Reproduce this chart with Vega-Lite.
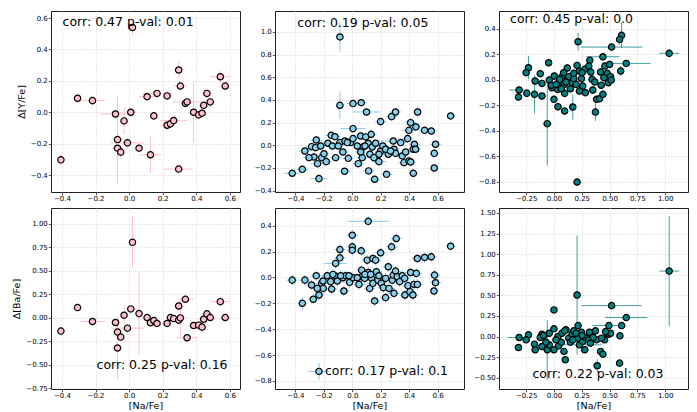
{
"$schema": "https://vega.github.io/schema/vega-lite/v6.json",
"padding": {"left": 11, "top": 10, "right": 5, "bottom": 0},
"background": "white",
"config": {
  "font": "DejaVu Sans",
  "view": {"stroke": "#222", "strokeWidth": 1},
  "axis": {"domain": false, "labelFontSize": 7, "titleFontSize": 9.5, "titleFontWeight": "normal", "labelColor": "#000", "titleColor": "#000", "tickColor": "#222", "tickSize": 2.7, "tickWidth": 0.8, "labelPadding": 1, "gridColor": "#d4d4d4", "gridDash": [1, 1.2], "gridWidth": 0.8, "titlePadding": 4, "labelFlush": false, "labelOverlap": false},
  "axisX": {"labelPadding": 0, "titlePadding": 1.5, "titleColor": "#000"}
},
"datasets": {
"d1": [
{"x":-0.406,"y":-0.303,"xe":0.02,"ye":0.04},
{"x":-0.307,"y":0.089,"xe":0.02,"ye":0.03},
{"x":-0.218,"y":0.074,"xe":0.076,"ye":0.03},
{"x":-0.081,"y":-0.011,"xe":0.09,"ye":0.03},
{"x":-0.069,"y":-0.174,"xe":0.03,"ye":0.28},
{"x":-0.069,"y":-0.229,"xe":0.03,"ye":0.04},
{"x":-0.05,"y":-0.254,"xe":0.02,"ye":0.04},
{"x":-0.03,"y":-0.055,"xe":0.02,"ye":0.085},
{"x":-0.01,"y":-0.195,"xe":0.1,"ye":0.03},
{"x":0.01,"y":0.0,"xe":0.03,"ye":0.03},
{"x":0.02,"y":0.54,"xe":0.02,"ye":0.05},
{"x":0.059,"y":-0.229,"xe":0.02,"ye":0.03},
{"x":0.107,"y":0.099,"xe":0.05,"ye":0.03},
{"x":0.127,"y":-0.271,"xe":0.065,"ye":0.115},
{"x":0.147,"y":-0.023,"xe":0.02,"ye":0.03},
{"x":0.166,"y":0.12,"xe":0.09,"ye":0.03},
{"x":0.226,"y":0.104,"xe":0.03,"ye":0.03},
{"x":0.226,"y":-0.083,"xe":0.04,"ye":0.03},
{"x":0.246,"y":-0.074,"xe":0.03,"ye":0.03},
{"x":0.265,"y":-0.053,"xe":0.08,"ye":0.03},
{"x":0.295,"y":0.269,"xe":0.03,"ye":0.055},
{"x":0.305,"y":0.167,"xe":0.04,"ye":0.03},
{"x":0.295,"y":-0.362,"xe":0.085,"ye":0.03},
{"x":0.335,"y":0.057,"xe":0.03,"ye":0.03},
{"x":0.345,"y":0.066,"xe":0.085,"ye":0.03},
{"x":0.384,"y":0.0,"xe":0.03,"ye":0.19},
{"x":0.414,"y":-0.017,"xe":0.03,"ye":0.03},
{"x":0.434,"y":-0.006,"xe":0.03,"ye":0.03},
{"x":0.444,"y":0.044,"xe":0.03,"ye":0.03},
{"x":0.463,"y":0.12,"xe":0.03,"ye":0.03},
{"x":0.483,"y":0.066,"xe":0.03,"ye":0.03},
{"x":0.543,"y":0.226,"xe":0.06,"ye":0.04},
{"x":0.572,"y":0.167,"xe":0.03,"ye":0.03}
],
"d4": [
{"x":-0.406,"y":-0.144,"xe":0.02,"ye":0.05},
{"x":-0.307,"y":0.106,"xe":0.02,"ye":0.04},
{"x":-0.218,"y":-0.042,"xe":0.076,"ye":0.04},
{"x":-0.081,"y":-0.053,"xe":0.03,"ye":0.04},
{"x":-0.069,"y":-0.155,"xe":0.03,"ye":0.04},
{"x":-0.069,"y":-0.324,"xe":0.03,"ye":0.335},
{"x":-0.05,"y":-0.208,"xe":0.02,"ye":0.04},
{"x":-0.03,"y":0.025,"xe":0.02,"ye":0.1},
{"x":-0.01,"y":-0.113,"xe":0.1,"ye":0.04},
{"x":0.01,"y":0.092,"xe":0.03,"ye":0.04},
{"x":0.02,"y":0.80,"xe":0.02,"ye":0.27},
{"x":0.059,"y":0.042,"xe":0.02,"ye":0.43},
{"x":0.107,"y":0.0,"xe":0.03,"ye":0.04},
{"x":0.127,"y":-0.056,"xe":0.03,"ye":0.04},
{"x":0.147,"y":-0.032,"xe":0.03,"ye":0.04},
{"x":0.166,"y":-0.063,"xe":0.03,"ye":0.04},
{"x":0.226,"y":-0.063,"xe":0.03,"ye":0.04},
{"x":0.246,"y":0.0,"xe":0.03,"ye":0.04},
{"x":0.265,"y":-0.011,"xe":0.03,"ye":0.04},
{"x":0.295,"y":-0.028,"xe":0.03,"ye":0.04},
{"x":0.295,"y":0.123,"xe":0.03,"ye":0.05},
{"x":0.305,"y":-0.004,"xe":0.03,"ye":0.2},
{"x":0.335,"y":0.194,"xe":0.05,"ye":0.04},
{"x":0.345,"y":-0.215,"xe":0.065,"ye":0.04},
{"x":0.384,"y":-0.085,"xe":0.03,"ye":0.04},
{"x":0.414,"y":-0.081,"xe":0.03,"ye":0.04},
{"x":0.434,"y":-0.102,"xe":0.03,"ye":0.04},
{"x":0.444,"y":-0.018,"xe":0.03,"ye":0.04},
{"x":0.463,"y":0.039,"xe":0.03,"ye":0.04},
{"x":0.483,"y":0.0,"xe":0.03,"ye":0.04},
{"x":0.543,"y":0.169,"xe":0.06,"ye":0.05},
{"x":0.572,"y":0.0,"xe":0.03,"ye":0.04}
],
"d2": [
{"x":-0.087,"y":0.956,"xe":0.03,"ye":0.13},
{"x":-0.087,"y":0.353,"xe":0.03,"ye":0.12},
{"x":0.005,"y":0.368,"xe":0.04,"ye":0.03},
{"x":0.063,"y":0.376,"xe":0.04,"ye":0.03},
{"x":0.10,"y":0.294,"xe":0.095,"ye":0.03},
{"x":0.199,"y":0.209,"xe":0.04,"ye":0.03},
{"x":0.276,"y":0.253,"xe":0.04,"ye":0.03},
{"x":0.304,"y":0.294,"xe":0.04,"ye":0.03},
{"x":0.459,"y":0.294,"xe":0.03,"ye":0.05},
{"x":0.691,"y":0.259,"xe":0.03,"ye":0.03},
{"x":0.005,"y":0.147,"xe":0.09,"ye":0.03},
{"x":0.508,"y":0.132,"xe":0.04,"ye":0.03},
{"x":0.555,"y":0.126,"xe":0.04,"ye":0.03},
{"x":0.447,"y":0.162,"xe":0.04,"ye":0.03},
{"x":0.41,"y":0.2,"xe":0.04,"ye":0.04},
{"x":0.398,"y":0.132,"xe":0.05,"ye":0.03},
{"x":0.389,"y":0.059,"xe":0.04,"ye":0.04},
{"x":0.585,"y":0.009,"xe":0.04,"ye":0.03},
{"x":0.576,"y":-0.071,"xe":0.03,"ye":0.04},
{"x":0.576,"y":-0.2,"xe":0.03,"ye":0.03},
{"x":0.429,"y":-0.247,"xe":0.03,"ye":0.03},
{"x":0.241,"y":-0.256,"xe":0.04,"ye":0.03},
{"x":0.157,"y":-0.3,"xe":0.04,"ye":0.03},
{"x":0.115,"y":-0.226,"xe":0.04,"ye":0.03},
{"x":0.187,"y":-0.144,"xe":0.05,"ye":0.03},
{"x":0.042,"y":-0.162,"xe":0.04,"ye":0.03},
{"x":-0.054,"y":-0.229,"xe":0.04,"ye":0.03},
{"x":-0.234,"y":-0.294,"xe":0.06,"ye":0.03},
{"x":-0.351,"y":-0.212,"xe":0.04,"ye":0.03},
{"x":-0.422,"y":-0.247,"xe":0.06,"ye":0.03},
{"x":-0.333,"y":-0.05,"xe":0.04,"ye":0.03},
{"x":-0.286,"y":-0.012,"xe":0.04,"ye":0.03},
{"x":-0.253,"y":0.047,"xe":0.04,"ye":0.03},
{"x":-0.269,"y":-0.103,"xe":0.04,"ye":0.03},
{"x":-0.244,"y":-0.162,"xe":0.05,"ye":0.03},
{"x":-0.215,"y":-0.109,"xe":0.04,"ye":0.03},
{"x":-0.199,"y":-0.074,"xe":0.04,"ye":0.03},
{"x":-0.183,"y":-0.144,"xe":0.04,"ye":0.03},
{"x":-0.171,"y":0.018,"xe":0.04,"ye":0.03},
{"x":-0.148,"y":0.088,"xe":0.04,"ye":0.03},
{"x":-0.122,"y":0.076,"xe":0.04,"ye":0.03},
{"x":-0.117,"y":-0.109,"xe":0.04,"ye":0.03},
{"x":-0.087,"y":0.024,"xe":0.04,"ye":0.03},
{"x":-0.066,"y":-0.059,"xe":0.04,"ye":0.03},
{"x":-0.052,"y":0.038,"xe":0.04,"ye":0.03},
{"x":-0.028,"y":-0.115,"xe":0.04,"ye":0.03},
{"x":-0.012,"y":0.024,"xe":0.04,"ye":0.03},
{"x":0.005,"y":0.059,"xe":0.04,"ye":0.03},
{"x":0.059,"y":0.082,"xe":0.04,"ye":0.03},
{"x":0.094,"y":0.074,"xe":0.04,"ye":0.03},
{"x":0.133,"y":0.097,"xe":0.04,"ye":0.03},
{"x":0.075,"y":-0.015,"xe":0.04,"ye":0.03},
{"x":0.112,"y":0.018,"xe":0.04,"ye":0.03},
{"x":0.14,"y":-0.015,"xe":0.04,"ye":0.03},
{"x":0.164,"y":0.018,"xe":0.04,"ye":0.03},
{"x":0.199,"y":-0.05,"xe":0.04,"ye":0.03},
{"x":0.215,"y":-0.006,"xe":0.04,"ye":0.03},
{"x":0.124,"y":-0.079,"xe":0.04,"ye":0.03},
{"x":0.07,"y":-0.109,"xe":0.04,"ye":0.03},
{"x":0.253,"y":-0.079,"xe":0.04,"ye":0.03},
{"x":0.288,"y":0.038,"xe":0.1,"ye":0.03},
{"x":0.293,"y":-0.035,"xe":0.04,"ye":0.03},
{"x":0.304,"y":-0.071,"xe":0.04,"ye":0.03},
{"x":0.34,"y":0.024,"xe":0.04,"ye":0.03},
{"x":0.351,"y":-0.094,"xe":0.04,"ye":0.03},
{"x":0.375,"y":-0.059,"xe":0.04,"ye":0.03},
{"x":0.363,"y":-0.153,"xe":0.04,"ye":0.03},
{"x":0.398,"y":-0.138,"xe":0.04,"ye":0.03},
{"x":0.41,"y":-0.147,"xe":0.04,"ye":0.03},
{"x":0.436,"y":0.009,"xe":0.04,"ye":0.03},
{"x":0.429,"y":-0.035,"xe":0.04,"ye":0.03},
{"x":0.445,"y":-0.035,"xe":0.04,"ye":0.03},
{"x":-0.258,"y":-0.021,"xe":0.04,"ye":0.03},
{"x":-0.222,"y":-0.006,"xe":0.04,"ye":0.03},
{"x":-0.304,"y":-0.109,"xe":0.04,"ye":0.03},
{"x":0.035,"y":-0.006,"xe":0.04,"ye":0.03},
{"x":0.089,"y":-0.006,"xe":0.04,"ye":0.03},
{"x":0.234,"y":-0.035,"xe":0.04,"ye":0.03},
{"x":0.269,"y":-0.05,"xe":0.04,"ye":0.03},
{"x":-0.14,"y":-0.006,"xe":0.04,"ye":0.03},
{"x":0.187,"y":-0.079,"xe":0.04,"ye":0.03},
{"x":-0.035,"y":0.024,"xe":0.04,"ye":0.03},
{"x":-0.098,"y":-0.006,"xe":0.04,"ye":0.03},
{"x":0.059,"y":-0.059,"xe":0.04,"ye":0.03},
{"x":0.152,"y":-0.109,"xe":0.04,"ye":0.03}
],
"d5": [
{"x":0.112,"y":0.433,"xe":0.146,"ye":0.04},
{"x":0.0,"y":0.326,"xe":0.04,"ye":0.04},
{"x":0.0,"y":0.236,"xe":0.04,"ye":0.04},
{"x":0.0,"y":0.21,"xe":0.04,"ye":0.04},
{"x":-0.087,"y":0.215,"xe":0.04,"ye":0.04},
{"x":-0.087,"y":0.151,"xe":0.04,"ye":0.04},
{"x":-0.117,"y":0.108,"xe":0.08,"ye":0.04},
{"x":0.063,"y":0.205,"xe":0.04,"ye":0.04},
{"x":0.105,"y":0.133,"xe":0.04,"ye":0.04},
{"x":0.145,"y":0.146,"xe":0.04,"ye":0.04},
{"x":0.164,"y":0.133,"xe":0.04,"ye":0.04},
{"x":0.199,"y":0.19,"xe":0.04,"ye":0.04},
{"x":0.253,"y":0.082,"xe":0.04,"ye":0.04},
{"x":0.276,"y":0.236,"xe":0.04,"ye":0.04},
{"x":0.309,"y":0.3,"xe":0.04,"ye":0.04},
{"x":0.457,"y":0.146,"xe":0.04,"ye":0.04},
{"x":0.508,"y":0.154,"xe":0.04,"ye":0.04},
{"x":0.555,"y":0.159,"xe":0.04,"ye":0.04},
{"x":0.691,"y":0.241,"xe":0.03,"ye":0.04},
{"x":0.578,"y":0.018,"xe":0.04,"ye":0.04},
{"x":0.585,"y":-0.041,"xe":0.04,"ye":0.04},
{"x":0.574,"y":-0.105,"xe":0.03,"ye":0.04},
{"x":-0.422,"y":-0.021,"xe":0.04,"ye":0.04},
{"x":-0.333,"y":-0.021,"xe":0.04,"ye":0.04},
{"x":-0.351,"y":-0.2,"xe":0.03,"ye":0.05},
{"x":-0.274,"y":-0.169,"xe":0.04,"ye":0.04},
{"x":-0.253,"y":0.013,"xe":0.04,"ye":0.04},
{"x":-0.286,"y":-0.059,"xe":0.04,"ye":0.04},
{"x":-0.234,"y":-0.136,"xe":0.04,"ye":0.04},
{"x":-0.215,"y":-0.046,"xe":0.04,"ye":0.04},
{"x":-0.204,"y":-0.085,"xe":0.04,"ye":0.04},
{"x":-0.176,"y":0.013,"xe":0.04,"ye":0.04},
{"x":-0.152,"y":-0.033,"xe":0.04,"ye":0.04},
{"x":-0.145,"y":-0.09,"xe":0.04,"ye":0.04},
{"x":-0.122,"y":0.013,"xe":0.04,"ye":0.04},
{"x":-0.105,"y":-0.028,"xe":0.04,"ye":0.04},
{"x":-0.059,"y":-0.105,"xe":0.04,"ye":0.04},
{"x":-0.066,"y":-0.003,"xe":0.04,"ye":0.04},
{"x":-0.047,"y":0.013,"xe":0.04,"ye":0.04},
{"x":-0.019,"y":-0.038,"xe":0.04,"ye":0.04},
{"x":0.005,"y":-0.003,"xe":0.04,"ye":0.04},
{"x":0.047,"y":-0.054,"xe":0.04,"ye":0.04},
{"x":0.066,"y":0.056,"xe":0.04,"ye":0.04},
{"x":0.066,"y":0.005,"xe":0.04,"ye":0.04},
{"x":0.087,"y":-0.008,"xe":0.04,"ye":0.04},
{"x":0.112,"y":0.038,"xe":0.04,"ye":0.04},
{"x":0.122,"y":-0.085,"xe":0.04,"ye":0.04},
{"x":0.136,"y":-0.008,"xe":0.04,"ye":0.04},
{"x":0.145,"y":-0.046,"xe":0.04,"ye":0.04},
{"x":0.157,"y":-0.182,"xe":0.04,"ye":0.04},
{"x":0.169,"y":0.044,"xe":0.04,"ye":0.04},
{"x":0.18,"y":-0.021,"xe":0.04,"ye":0.04},
{"x":0.204,"y":-0.046,"xe":0.04,"ye":0.04},
{"x":0.218,"y":-0.079,"xe":0.04,"ye":0.04},
{"x":0.234,"y":-0.156,"xe":0.04,"ye":0.04},
{"x":0.258,"y":-0.085,"xe":0.04,"ye":0.04},
{"x":0.281,"y":-0.021,"xe":0.04,"ye":0.04},
{"x":0.288,"y":0.018,"xe":0.04,"ye":0.04},
{"x":0.293,"y":-0.123,"xe":0.04,"ye":0.04},
{"x":0.304,"y":0.049,"xe":0.04,"ye":0.04},
{"x":0.316,"y":0.005,"xe":0.04,"ye":0.04},
{"x":0.333,"y":-0.033,"xe":0.04,"ye":0.04},
{"x":0.351,"y":0.013,"xe":0.04,"ye":0.04},
{"x":0.37,"y":-0.136,"xe":0.04,"ye":0.04},
{"x":0.391,"y":-0.064,"xe":0.04,"ye":0.04},
{"x":0.41,"y":0.038,"xe":0.04,"ye":0.04},
{"x":0.405,"y":-0.11,"xe":0.04,"ye":0.04},
{"x":0.426,"y":-0.136,"xe":0.04,"ye":0.04},
{"x":0.433,"y":-0.054,"xe":0.04,"ye":0.04},
{"x":0.45,"y":0.031,"xe":0.04,"ye":0.04},
{"x":0.457,"y":-0.054,"xe":0.04,"ye":0.04},
{"x":0.368,"y":-0.008,"xe":0.04,"ye":0.04},
{"x":-0.234,"y":-0.726,"xe":0.073,"ye":0.065},
{"x":-0.206,"y":-0.028,"xe":0.04,"ye":0.04},
{"x":-0.246,"y":-0.085,"xe":0.04,"ye":0.04},
{"x":-0.136,"y":0.023,"xe":0.04,"ye":0.04},
{"x":-0.082,"y":0.013,"xe":0.04,"ye":0.04},
{"x":-0.023,"y":0.013,"xe":0.04,"ye":0.04},
{"x":0.035,"y":-0.003,"xe":0.04,"ye":0.04},
{"x":0.089,"y":0.023,"xe":0.04,"ye":0.04},
{"x":0.129,"y":0.023,"xe":0.04,"ye":0.04},
{"x":0.187,"y":0.013,"xe":0.04,"ye":0.04},
{"x":0.234,"y":-0.008,"xe":0.04,"ye":0.04}
],
"d3": [
{"x":1.036,"y":0.207,"xe":0.09,"ye":0.03},
{"x":0.608,"y":0.348,"xe":0.03,"ye":0.1},
{"x":0.59,"y":0.316,"xe":0.03,"ye":0.04},
{"x":0.518,"y":0.256,"xe":0.28,"ye":0.03},
{"x":0.217,"y":0.298,"xe":0.03,"ye":0.07},
{"x":0.44,"y":0.18,"xe":0.15,"ye":0.03},
{"x":0.65,"y":0.128,"xe":0.22,"ye":0.03},
{"x":0.6,"y":0.068,"xe":0.03,"ye":0.04},
{"x":0.322,"y":0.152,"xe":0.03,"ye":0.03},
{"x":-0.048,"y":0.133,"xe":0.03,"ye":0.03},
{"x":-0.229,"y":0.094,"xe":0.03,"ye":0.09},
{"x":-0.25,"y":0.055,"xe":0.03,"ye":0.03},
{"x":-0.123,"y":0.047,"xe":0.03,"ye":0.03},
{"x":-0.169,"y":-0.01,"xe":0.03,"ye":0.03},
{"x":-0.108,"y":-0.029,"xe":0.03,"ye":0.03},
{"x":-0.313,"y":-0.081,"xe":0.09,"ye":0.03},
{"x":-0.319,"y":-0.136,"xe":0.03,"ye":0.03},
{"x":-0.244,"y":-0.107,"xe":0.03,"ye":0.03},
{"x":-0.175,"y":-0.115,"xe":0.03,"ye":0.15},
{"x":-0.108,"y":-0.128,"xe":0.03,"ye":0.03},
{"x":-0.06,"y":-0.345,"xe":0.04,"ye":0.33},
{"x":-0.042,"y":-0.003,"xe":0.03,"ye":0.03},
{"x":-0.018,"y":-0.063,"xe":0.03,"ye":0.03},
{"x":0.003,"y":0.029,"xe":0.03,"ye":0.03},
{"x":0.033,"y":-0.076,"xe":0.03,"ye":0.03},
{"x":0.0,"y":-0.154,"xe":0.03,"ye":0.03},
{"x":0.036,"y":-0.212,"xe":0.03,"ye":0.03},
{"x":0.096,"y":-0.246,"xe":0.03,"ye":0.03},
{"x":0.169,"y":-0.214,"xe":0.03,"ye":0.1},
{"x":0.096,"y":-0.107,"xe":0.03,"ye":0.03},
{"x":0.042,"y":-0.024,"xe":0.03,"ye":0.03},
{"x":0.072,"y":0.024,"xe":0.03,"ye":0.03},
{"x":0.09,"y":-0.039,"xe":0.03,"ye":0.03},
{"x":0.12,"y":0.092,"xe":0.03,"ye":0.03},
{"x":0.133,"y":0.024,"xe":0.03,"ye":0.03},
{"x":0.163,"y":-0.024,"xe":0.03,"ye":0.03},
{"x":0.148,"y":-0.071,"xe":0.03,"ye":0.03},
{"x":0.208,"y":0.112,"xe":0.03,"ye":0.03},
{"x":0.229,"y":0.068,"xe":0.03,"ye":0.03},
{"x":0.247,"y":0.008,"xe":0.03,"ye":0.03},
{"x":0.259,"y":-0.05,"xe":0.03,"ye":0.03},
{"x":0.277,"y":0.081,"xe":0.03,"ye":0.03},
{"x":0.283,"y":-0.102,"xe":0.03,"ye":0.03},
{"x":0.313,"y":0.107,"xe":0.03,"ye":0.03},
{"x":0.331,"y":0.06,"xe":0.03,"ye":0.03},
{"x":0.343,"y":0.003,"xe":0.03,"ye":0.03},
{"x":0.367,"y":-0.018,"xe":0.03,"ye":0.03},
{"x":0.349,"y":-0.081,"xe":0.03,"ye":0.03},
{"x":0.383,"y":-0.154,"xe":0.03,"ye":0.03},
{"x":0.373,"y":-0.254,"xe":0.03,"ye":0.07},
{"x":0.41,"y":-0.149,"xe":0.03,"ye":0.03},
{"x":0.44,"y":-0.115,"xe":0.03,"ye":0.03},
{"x":0.458,"y":0.107,"xe":0.03,"ye":0.03},
{"x":0.479,"y":0.05,"xe":0.03,"ye":0.03},
{"x":0.488,"y":-0.024,"xe":0.03,"ye":0.03},
{"x":0.5,"y":0.12,"xe":0.03,"ye":0.03},
{"x":0.509,"y":0.024,"xe":0.03,"ye":0.03},
{"x":0.515,"y":-0.003,"xe":0.03,"ye":0.03},
{"x":0.449,"y":0.016,"xe":0.03,"ye":0.03},
{"x":0.419,"y":0.06,"xe":0.03,"ye":0.03},
{"x":0.425,"y":-0.044,"xe":0.03,"ye":0.03},
{"x":0.066,"y":-0.071,"xe":0.03,"ye":0.03},
{"x":0.108,"y":-0.018,"xe":0.03,"ye":0.03},
{"x":0.178,"y":0.008,"xe":0.03,"ye":0.03},
{"x":0.199,"y":-0.037,"xe":0.03,"ye":0.03},
{"x":0.229,"y":-0.089,"xe":0.03,"ye":0.03},
{"x":0.253,"y":0.055,"xe":0.03,"ye":0.03},
{"x":0.178,"y":0.05,"xe":0.03,"ye":0.03},
{"x":0.087,"y":0.055,"xe":0.03,"ye":0.03},
{"x":0.208,"y":-0.803,"xe":0.03,"ye":0.03},
{"x":-0.024,"y":-0.044,"xe":0.03,"ye":0.03},
{"x":0.021,"y":-0.037,"xe":0.03,"ye":0.03},
{"x":0.051,"y":0.003,"xe":0.03,"ye":0.03}
],
"d6": [
{"x":1.036,"y":0.794,"xe":0.09,"ye":0.665},
{"x":0.208,"y":0.504,"xe":0.03,"ye":0.72},
{"x":0.518,"y":0.375,"xe":0.27,"ye":0.03},
{"x":0.0,"y":0.323,"xe":0.03,"ye":0.03},
{"x":0.65,"y":0.23,"xe":0.19,"ye":0.03},
{"x":0.608,"y":0.133,"xe":0.03,"ye":0.04},
{"x":0.217,"y":0.133,"xe":0.03,"ye":0.03},
{"x":0.494,"y":0.133,"xe":0.15,"ye":0.03},
{"x":-0.313,"y":-0.012,"xe":0.1,"ye":0.03},
{"x":-0.319,"y":-0.133,"xe":0.03,"ye":0.03},
{"x":-0.229,"y":0.02,"xe":0.03,"ye":0.03},
{"x":-0.25,"y":-0.04,"xe":0.03,"ye":0.03},
{"x":-0.175,"y":-0.093,"xe":0.03,"ye":0.03},
{"x":-0.169,"y":-0.161,"xe":0.03,"ye":0.03},
{"x":-0.108,"y":0.028,"xe":0.03,"ye":0.03},
{"x":-0.123,"y":-0.012,"xe":0.03,"ye":0.03},
{"x":-0.108,"y":-0.121,"xe":0.03,"ye":0.03},
{"x":-0.06,"y":-0.161,"xe":0.04,"ye":0.36},
{"x":-0.042,"y":0.04,"xe":0.03,"ye":0.03},
{"x":-0.042,"y":-0.101,"xe":0.03,"ye":0.03},
{"x":0.0,"y":0.093,"xe":0.03,"ye":0.03},
{"x":0.0,"y":-0.161,"xe":0.03,"ye":0.03},
{"x":0.042,"y":-0.113,"xe":0.03,"ye":0.03},
{"x":0.09,"y":-0.181,"xe":0.03,"ye":0.03},
{"x":0.102,"y":-0.282,"xe":0.03,"ye":0.03},
{"x":0.036,"y":0.0,"xe":0.03,"ye":0.03},
{"x":0.072,"y":0.04,"xe":0.03,"ye":0.03},
{"x":0.108,"y":0.081,"xe":0.03,"ye":0.03},
{"x":0.133,"y":-0.02,"xe":0.03,"ye":0.03},
{"x":0.163,"y":0.028,"xe":0.03,"ye":0.03},
{"x":0.178,"y":0.069,"xe":0.03,"ye":0.03},
{"x":0.217,"y":-0.02,"xe":0.03,"ye":0.03},
{"x":0.229,"y":-0.101,"xe":0.2,"ye":0.03},
{"x":0.247,"y":0.052,"xe":0.03,"ye":0.03},
{"x":0.259,"y":-0.06,"xe":0.03,"ye":0.03},
{"x":0.277,"y":-0.161,"xe":0.03,"ye":0.03},
{"x":0.283,"y":-0.012,"xe":0.03,"ye":0.03},
{"x":0.313,"y":-0.04,"xe":0.03,"ye":0.03},
{"x":0.343,"y":0.02,"xe":0.03,"ye":0.03},
{"x":0.373,"y":0.069,"xe":0.03,"ye":0.03},
{"x":0.383,"y":-0.04,"xe":0.03,"ye":0.03},
{"x":0.389,"y":-0.355,"xe":0.03,"ye":0.08},
{"x":0.419,"y":-0.181,"xe":0.03,"ye":0.03},
{"x":0.44,"y":-0.214,"xe":0.03,"ye":0.03},
{"x":0.455,"y":-0.04,"xe":0.03,"ye":0.03},
{"x":0.479,"y":0.04,"xe":0.03,"ye":0.03},
{"x":0.494,"y":0.028,"xe":0.03,"ye":0.03},
{"x":0.509,"y":0.04,"xe":0.03,"ye":0.03},
{"x":0.593,"y":0.008,"xe":0.03,"ye":0.03},
{"x":0.59,"y":-0.323,"xe":0.03,"ye":0.03},
{"x":0.096,"y":0.069,"xe":0.03,"ye":0.03},
{"x":0.066,"y":-0.069,"xe":0.03,"ye":0.03},
{"x":0.148,"y":-0.069,"xe":0.03,"ye":0.03},
{"x":0.199,"y":0.04,"xe":0.03,"ye":0.03},
{"x":0.319,"y":0.052,"xe":0.03,"ye":0.03},
{"x":0.352,"y":-0.012,"xe":0.03,"ye":0.03},
{"x":0.428,"y":-0.02,"xe":0.03,"ye":0.03},
{"x":0.464,"y":0.06,"xe":0.03,"ye":0.03},
{"x":-0.093,"y":0.012,"xe":0.03,"ye":0.03},
{"x":-0.072,"y":-0.069,"xe":0.03,"ye":0.03},
{"x":0.018,"y":-0.04,"xe":0.03,"ye":0.03},
{"x":0.169,"y":-0.04,"xe":0.03,"ye":0.03},
{"x":0.253,"y":0.012,"xe":0.03,"ye":0.03},
{"x":0.328,"y":-0.081,"xe":0.03,"ye":0.03}
]
},
"columns": 3,
"spacing": {"row": 16, "column": 35},
"bounds": "flush",
"concat": [
{
 "width": 189, "height": 181,
 "data": {"name": "d1"},
 "encoding": {
  "x": {"field": "x", "type": "quantitative", "scale": {"domain": [-0.465, 0.66], "zero": false, "nice": false}, "axis": {"values": [-0.4,-0.2,0,0.2,0.4,0.6], "format": ".1f", "title": null}},
  "y": {"field": "y", "type": "quantitative", "scale": {"domain": [-0.508, 0.645], "zero": false, "nice": false}, "axis": {"values": [-0.4,-0.2,0,0.2,0.4,0.6], "format": ".1f", "title": "Δ[Y/Fe]"}}
 },
 "layer": [
  {"mark": {"type": "errorbar", "color": "#ffc0cb", "thickness": 1}, "encoding": {"xError": {"field": "xe"}}},
  {"mark": {"type": "errorbar", "color": "#ffc0cb", "thickness": 1}, "encoding": {"yError": {"field": "ye"}}},
  {"mark": {"type": "circle", "fill": "#ffc0cb", "stroke": "#000", "strokeWidth": 1.2, "size": 40, "opacity": 1}},
  {"data": {"values": [{"x": -0.396, "y": 0.574, "t": "corr: 0.47 p-val: 0.01"}]}, "mark": {"type": "text", "align": "left", "baseline": "middle", "fontSize": 12.5, "color": "#000"}, "encoding": {"text": {"field": "t"}}}
 ]
},
{
 "width": 189, "height": 181,
 "data": {"name": "d2"},
 "encoding": {
  "x": {"field": "x", "type": "quantitative", "scale": {"domain": [-0.543, 0.785], "zero": false, "nice": false}, "axis": {"values": [-0.4,-0.2,0,0.2,0.4,0.6], "format": ".1f", "title": null}},
  "y": {"field": "y", "type": "quantitative", "scale": {"domain": [-0.412, 1.185], "zero": false, "nice": false}, "axis": {"values": [-0.4,-0.2,0,0.2,0.4,0.6,0.8,1.0], "format": ".1f", "title": null}}
 },
 "layer": [
  {"mark": {"type": "errorbar", "color": "#87ceeb", "thickness": 1}, "encoding": {"xError": {"field": "xe"}}},
  {"mark": {"type": "errorbar", "color": "#87ceeb", "thickness": 1}, "encoding": {"yError": {"field": "ye"}}},
  {"mark": {"type": "circle", "fill": "#87ceeb", "stroke": "#000", "strokeWidth": 1.2, "size": 40, "opacity": 1}},
  {"data": {"values": [{"x": -0.386, "y": 1.082, "t": "corr: 0.19 p-val: 0.05"}]}, "mark": {"type": "text", "align": "left", "baseline": "middle", "fontSize": 12.5, "color": "#000"}, "encoding": {"text": {"field": "t"}}}
 ]
},
{
 "width": 189, "height": 181,
 "data": {"name": "d3"},
 "encoding": {
  "x": {"field": "x", "type": "quantitative", "scale": {"domain": [-0.494, 1.205], "zero": false, "nice": false}, "axis": {"values": [-0.25,0,0.25,0.5,0.75,1.0], "format": ".2f", "title": null}},
  "y": {"field": "y", "type": "quantitative", "scale": {"domain": [-0.881, 0.539], "zero": false, "nice": false}, "axis": {"values": [-0.8,-0.6,-0.4,-0.2,0,0.2,0.4], "format": ".1f", "title": null}}
 },
 "layer": [
  {"mark": {"type": "errorbar", "color": "#008080", "opacity": 0.75, "thickness": 1}, "encoding": {"xError": {"field": "xe"}}},
  {"mark": {"type": "errorbar", "color": "#008080", "opacity": 0.75, "thickness": 1}, "encoding": {"yError": {"field": "ye"}}},
  {"mark": {"type": "circle", "fill": "#008080", "stroke": "#000", "strokeWidth": 1.2, "size": 40, "opacity": 1}},
  {"data": {"values": [{"x": -0.395, "y": 0.478, "t": "corr: 0.45 p-val: 0.0"}]}, "mark": {"type": "text", "align": "left", "baseline": "middle", "fontSize": 12.5, "color": "#000"}, "encoding": {"text": {"field": "t"}}}
 ]
},
{
 "width": 189, "height": 181,
 "data": {"name": "d4"},
 "encoding": {
  "x": {"field": "x", "type": "quantitative", "scale": {"domain": [-0.465, 0.66], "zero": false, "nice": false}, "axis": {"values": [-0.4,-0.2,0,0.2,0.4,0.6], "format": ".1f", "title": "[Na/Fe]"}},
  "y": {"field": "y", "type": "quantitative", "scale": {"domain": [-0.76, 1.165], "zero": false, "nice": false}, "axis": {"values": [-0.75,-0.5,-0.25,0,0.25,0.5,0.75,1.0], "format": ".2f", "title": "Δ[Ba/Fe]"}}
 },
 "layer": [
  {"mark": {"type": "errorbar", "color": "#ffc0cb", "thickness": 1}, "encoding": {"xError": {"field": "xe"}}},
  {"mark": {"type": "errorbar", "color": "#ffc0cb", "thickness": 1}, "encoding": {"yError": {"field": "ye"}}},
  {"mark": {"type": "circle", "fill": "#ffc0cb", "stroke": "#000", "strokeWidth": 1.2, "size": 40, "opacity": 1}},
  {"data": {"values": [{"x": -0.194, "y": -0.504, "t": "corr: 0.25 p-val: 0.16"}]}, "mark": {"type": "text", "align": "left", "baseline": "middle", "fontSize": 12.5, "color": "#000"}, "encoding": {"text": {"field": "t"}}}
 ]
},
{
 "width": 189, "height": 181,
 "data": {"name": "d5"},
 "encoding": {
  "x": {"field": "x", "type": "quantitative", "scale": {"domain": [-0.543, 0.785], "zero": false, "nice": false}, "axis": {"values": [-0.4,-0.2,0,0.2,0.4,0.6], "format": ".1f", "title": "[Na/Fe]"}},
  "y": {"field": "y", "type": "quantitative", "scale": {"domain": [-0.862, 0.536], "zero": false, "nice": false}, "axis": {"values": [-0.8,-0.6,-0.4,-0.2,0,0.2,0.4], "format": ".1f", "title": null}}
 },
 "layer": [
  {"mark": {"type": "errorbar", "color": "#87ceeb", "thickness": 1}, "encoding": {"xError": {"field": "xe"}}},
  {"mark": {"type": "errorbar", "color": "#87ceeb", "thickness": 1}, "encoding": {"yError": {"field": "ye"}}},
  {"mark": {"type": "circle", "fill": "#87ceeb", "stroke": "#000", "strokeWidth": 1.2, "size": 40, "opacity": 1}},
  {"data": {"values": [{"x": -0.192, "y": -0.72, "t": "corr: 0.17 p-val: 0.1"}]}, "mark": {"type": "text", "align": "left", "baseline": "middle", "fontSize": 12.5, "color": "#000"}, "encoding": {"text": {"field": "t"}}}
 ]
},
{
 "width": 189, "height": 181,
 "data": {"name": "d6"},
 "encoding": {
  "x": {"field": "x", "type": "quantitative", "scale": {"domain": [-0.494, 1.205], "zero": false, "nice": false}, "axis": {"values": [-0.25,0,0.25,0.5,0.75,1.0], "format": ".2f", "title": "[Na/Fe]"}},
  "y": {"field": "y", "type": "quantitative", "scale": {"domain": [-0.637, 1.56], "zero": false, "nice": false}, "axis": {"values": [-0.5,-0.25,0,0.25,0.5,0.75,1.0,1.25,1.5], "format": ".2f", "title": null}}
 },
 "layer": [
  {"mark": {"type": "errorbar", "color": "#008080", "opacity": 0.75, "thickness": 1}, "encoding": {"xError": {"field": "xe"}}},
  {"mark": {"type": "errorbar", "color": "#008080", "opacity": 0.75, "thickness": 1}, "encoding": {"yError": {"field": "ye"}}},
  {"mark": {"type": "circle", "fill": "#008080", "stroke": "#000", "strokeWidth": 1.2, "size": 40, "opacity": 1}},
  {"data": {"values": [{"x": -0.193, "y": -0.452, "t": "corr: 0.22 p-val: 0.03"}]}, "mark": {"type": "text", "align": "left", "baseline": "middle", "fontSize": 12.5, "color": "#000"}, "encoding": {"text": {"field": "t"}}}
 ]
}
]
}
